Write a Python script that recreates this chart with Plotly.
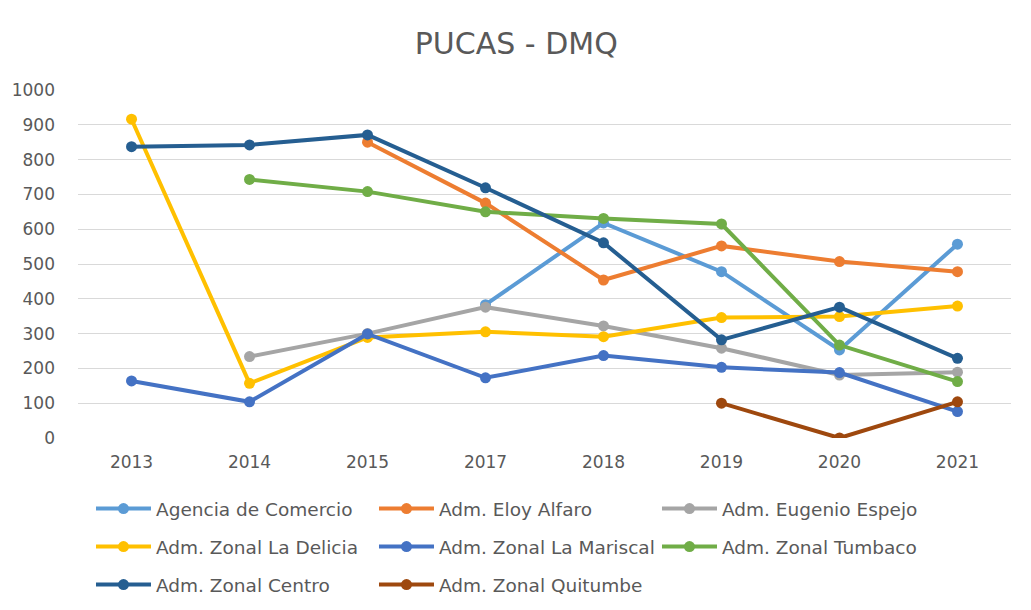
import plotly.graph_objects as go

years = ["2013", "2014", "2015", "2017", "2018", "2019", "2020", "2021"]

agencia_comercio = [None, None, None, 383, 618, 478, 253, 557]
eloy_alfaro = [None, None, 850, 675, 454, 552, 507, 478]
eugenio_espejo = [None, 234, 300, 376, 322, 258, 181, 189]
la_delicia = [916, 157, 289, 305, 291, 346, 349, 379]
la_mariscal = [164, 104, 299, 173, 237, 203, 188, 76]
tumbaco = [None, 743, 708, 650, 631, 615, 267, 162]
centro = [837, 842, 871, 719, 561, 282, 376, 229]
quitumbe = [None, None, None, None, None, 100, 0, 104]

series_names = [
    "Agencia de Comercio", "Adm. Eloy Alfaro", "Adm. Eugenio Espejo",
    "Adm. Zonal La Delicia", "Adm. Zonal La Mariscal", "Adm. Zonal Tumbaco",
    "Adm. Zonal Centro", "Adm. Zonal Quitumbe",
]
series_values = [agencia_comercio, eloy_alfaro, eugenio_espejo, la_delicia,
                 la_mariscal, tumbaco, centro, quitumbe]
colors = ["#5B9BD5", "#ED7D31", "#A5A5A5", "#FFC000",
          "#4472C4", "#70AD47", "#255E91", "#9E480E"]
legend_rows = ["legend", "legend", "legend", "legend2", "legend2", "legend2",
               "legend3", "legend3"]

y_ticks = [0, 100, 200, 300, 400, 500, 600, 700, 800, 900, 1000]

fig = go.Figure()
for name, vals, col, lg in zip(series_names, series_values, colors, legend_rows):
    fig.add_trace(go.Scatter(
        x=years, y=vals, name=name, mode="lines+markers",
        line=dict(color=col, width=4),
        marker=dict(color=col, size=11, symbol="circle"),
        connectgaps=False, legend=lg,
    ))

font_family = "DejaVu Sans"
text_color = "#595959"


def legend_cfg(yc):
    return dict(orientation="h", xref="container", yref="container",
                x=0.0805, xanchor="left", y=yc, yanchor="middle",
                entrywidth=213, entrywidthmode="pixels",
                font=dict(family=font_family, size=18.5, color=text_color),
                itemwidth=55, bgcolor="rgba(0,0,0,0)")


fig.update_layout(
    width=1031, height=610,
    paper_bgcolor="white", plot_bgcolor="white",
    margin=dict(l=70, r=28, t=82, b=180, autoexpand=False),
    title=dict(text="PUCAS - DMQ", x=0.493, xanchor="center", y=0.942, yanchor="middle",
               font=dict(family=font_family, size=30, color=text_color)),
    xaxis=dict(type="category", categoryorder="array", categoryarray=years,
               showgrid=False, showline=False, zeroline=False, ticks="",
               tickfont=dict(family=font_family, size=17, color=text_color),
               ticklabelstandoff=12),
    yaxis=dict(range=[0, 1000], tickvals=y_ticks, showgrid=True, gridcolor="#D9D9D9",
               gridwidth=1, zeroline=False, showline=False, ticks="",
               tickfont=dict(family=font_family, size=17, color=text_color),
               ticklabelstandoff=22),
    legend=legend_cfg(1 - 501 / 610),
    legend2=legend_cfg(1 - 539 / 610),
    legend3=legend_cfg(1 - 577 / 610),
    showlegend=True,
)

fig.write_html("out.html")
